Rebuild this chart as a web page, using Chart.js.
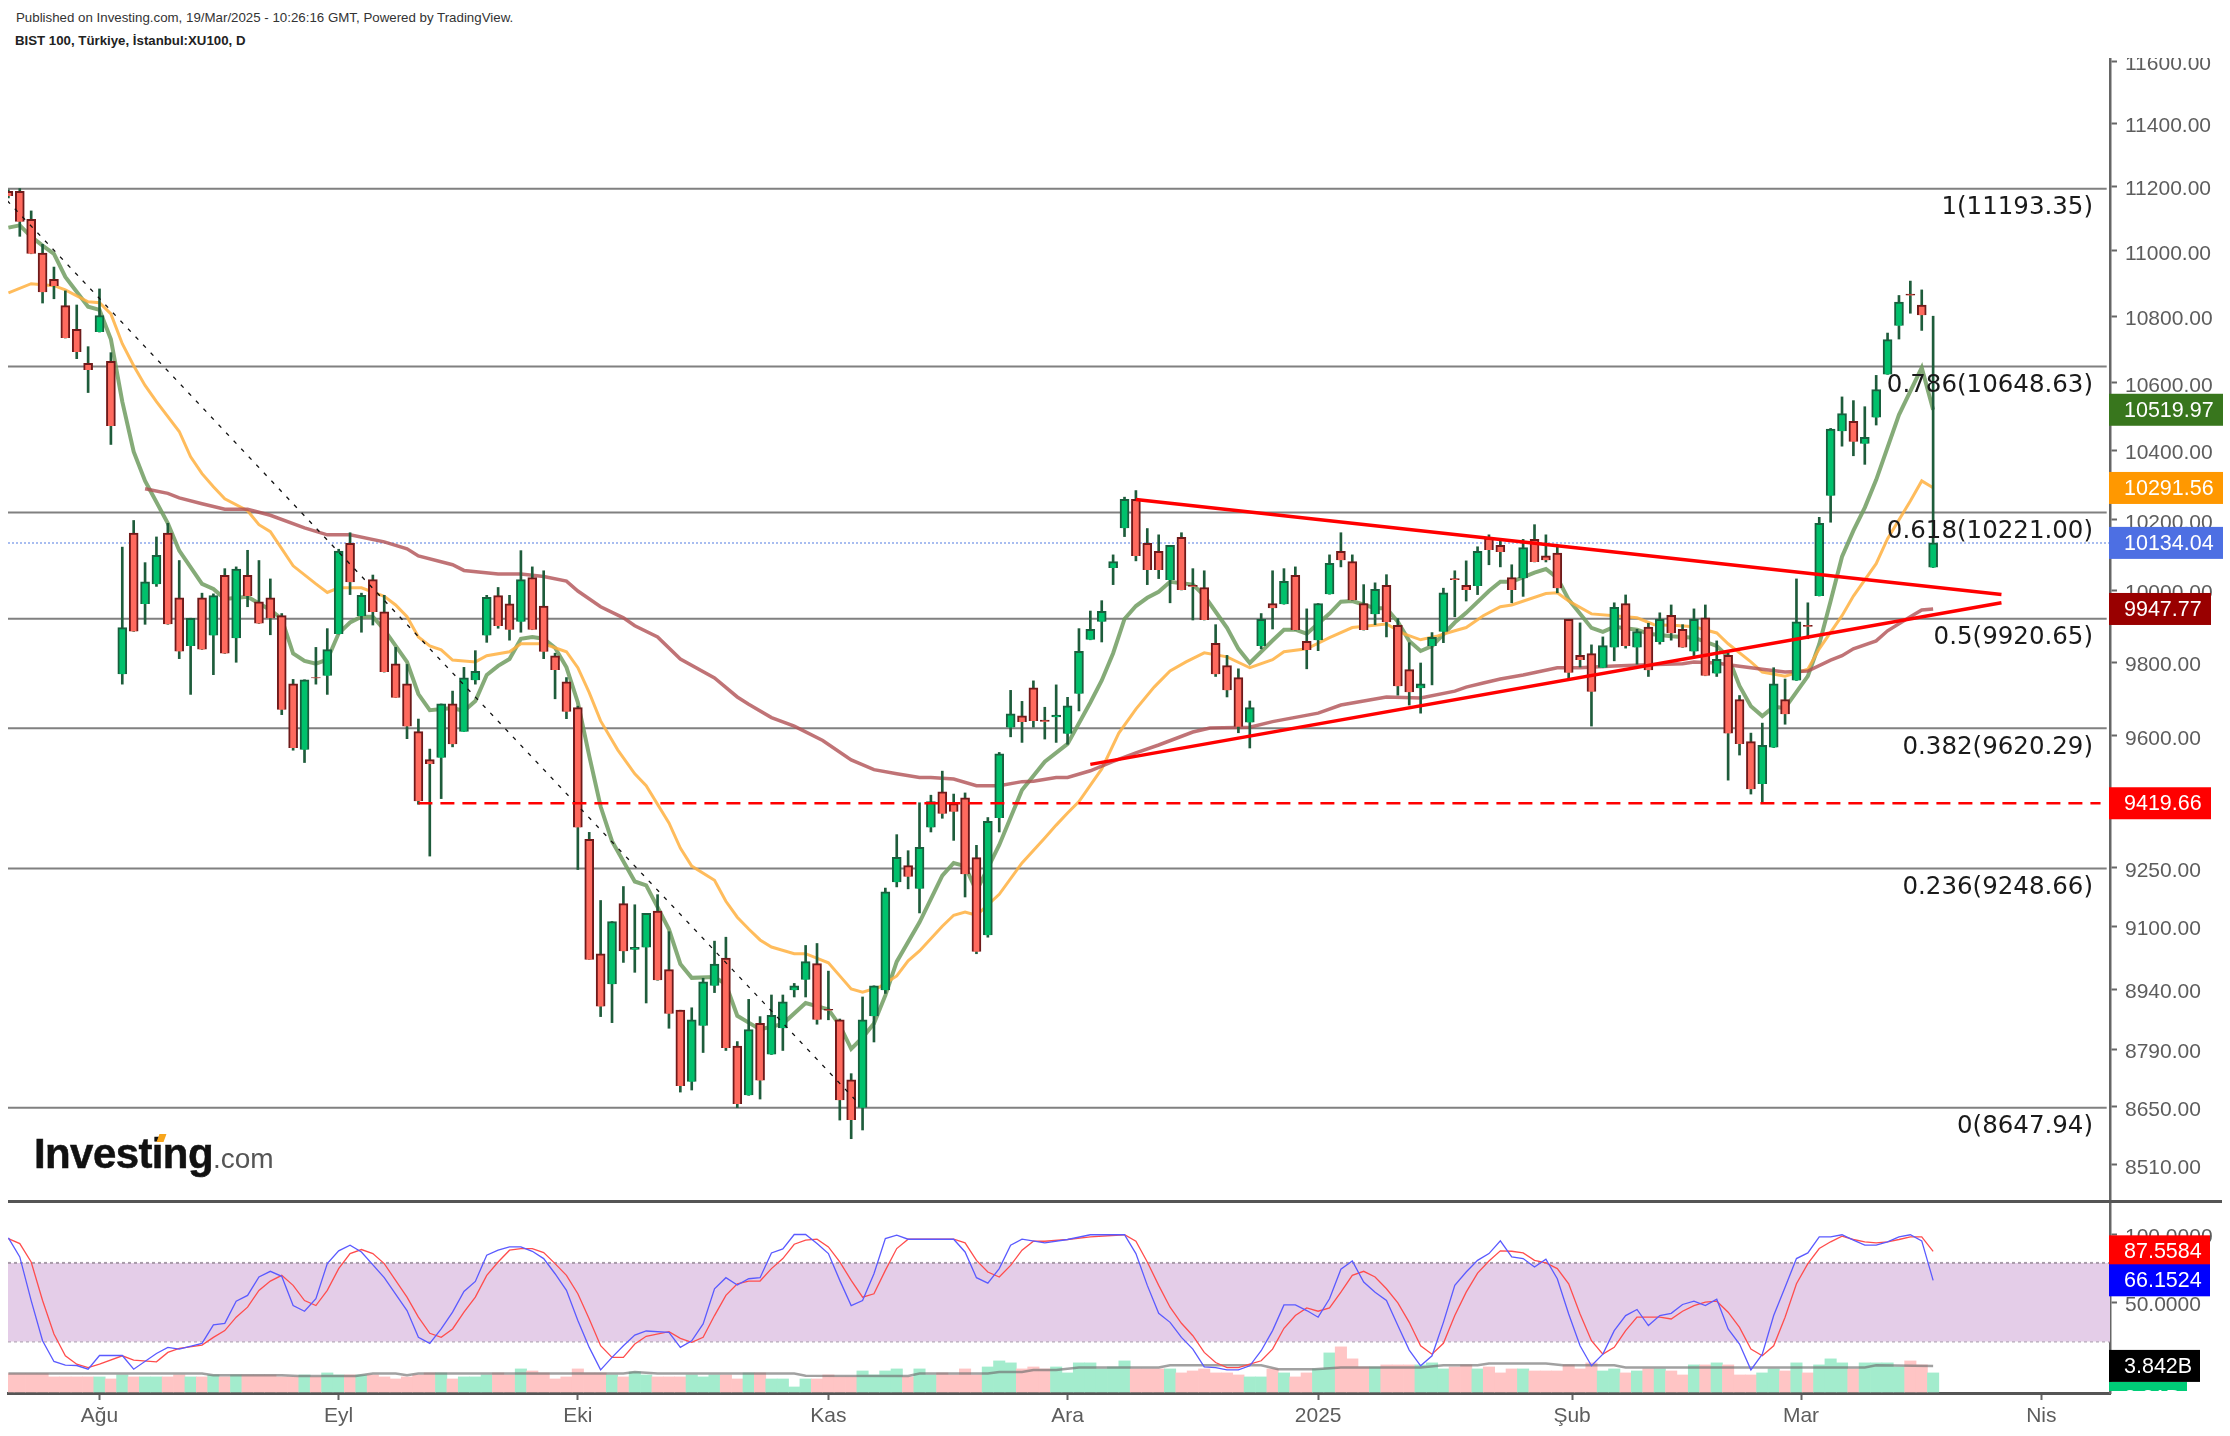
<!DOCTYPE html>
<html>
<head>
<meta charset="utf-8">
<title>BIST 100</title>
<script src="https://cdn.jsdelivr.net/npm/chart.js@4"></script>
<style>
  body { margin: 0; background: #fff; width: 2230px; height: 1436px; overflow: hidden; position: relative; font-family: "Liberation Sans", sans-serif; }
  canvas { position: absolute; left: 0; }
  .txt { position: absolute; white-space: nowrap; }
</style>
</head>
<body>
<div class="txt" style="left:16px;top:10px;font-size:13.3px;line-height:15px;color:#333">Published on Investing.com, 19/Mar/2025 - 10:26:16 GMT, Powered by TradingView.</div>
<div class="txt" style="left:15px;top:33px;font-size:13.25px;line-height:15px;font-weight:bold;color:#222">BIST 100, Türkiye, İstanbul:XU100, D</div>
<canvas id="priceChart" width="2230" height="1144" style="top:58px;width:2230px;height:1144px"></canvas>
<canvas id="lowerChart" width="2230" height="234" style="top:1202px;width:2230px;height:234px"></canvas>
<div style="position:absolute;left:8px;top:1200px;width:2214px;height:3px;background:#555"></div>
<div class="txt" style="left:34px;top:1133px;font-size:42px;line-height:42px;font-weight:bold;color:#111;letter-spacing:-0.6px;-webkit-text-stroke:0.5px #111">Investing<span style="font-size:28px;font-weight:normal;color:#555;letter-spacing:0;-webkit-text-stroke:0">.com</span></div>
<div style="position:absolute;left:158px;top:1134px;width:7px;height:8px;background:#f7a51c;transform:skewX(-20deg)"></div>
<script>
const opens = [
  11185,11185,11098,10993,10912,10832,10760,10658,10752,10664,
  9767,10162,9962,10017,10162,9979,9845,9979,9874,10042,
  9867,10042,9968,9979,9929,9741,9562,9758,9763,9878,
  10133,9928,10030,9940,9796,9741,9611,9536,9541,9686,
  9611,9751,9874,9985,9962,9912,10036,9956,9818,9746,
  9676,9325,9030,8953,9158,9041,9046,9139,8990,8888,
  8711,8849,8949,9019,8799,8678,8855,8778,8843,8938,
  8964,9005,8890,8864,8716,8648,8873,8938,9213,9256,
  9196,9356,9450,9419,9434,9277,9077,9381,9622,9654,
  9730,9642,9650,9605,9714,9862,9912,10063,10176,10259,
  10133,10110,10029,10150,10014,10008,9852,9791,9758,9636,
  9845,9963,9961,10042,9858,9861,9989,10110,10081,9963,
  9933,10014,9902,9780,9729,9845,9884,10033,10014,10012,
  10148,10127,10036,10034,10144,10097,10105,9919,9819,9824,
  9785,9841,9963,9841,9897,9856,9930,9891,9830,9923,
  9769,9819,9698,9584,9471,9568,9698,9750,9902,9984,
  10269,10457,10486,10420,10497,10625,10771,10867,10834,10064
];
const highs = [
  11190,11194,11124,11020,10950,10877,10834,10708,10883,10690,
  10122,10198,10078,10151,10190,10084,9922,9992,9990,10061,
  10066,10113,10084,10032,9935,9753,9752,9841,9893,10116,
  10163,9992,10043,9986,9841,9794,9645,9564,9686,9721,
  9786,9832,9986,10008,9986,10112,10066,10055,9825,9758,
  9680,9343,9166,9112,9202,9155,9133,9181,9086,8888,
  8894,8968,9062,9072,8810,8915,8872,8926,8926,8955,
  9051,9056,8986,8866,8731,8921,8949,9198,9337,9295,
  9421,9441,9505,9444,9447,9309,9382,9555,9723,9693,
  9749,9677,9738,9704,9893,9942,9971,10100,10265,10284,
  10175,10157,10127,10163,10061,10055,9904,9819,9782,9694,
  9935,10055,10061,10066,9948,9963,10100,10163,10100,10016,
  10021,10044,9921,9854,9798,9882,10006,10055,10083,10123,
  10157,10140,10072,10144,10186,10157,10123,9919,9909,9848,
  9870,9965,9987,9891,9908,9937,9959,9904,9948,9959,
  9859,9826,9709,9607,9634,9785,9754,10032,9965,10207,
  10465,10558,10547,10529,10622,10749,10863,10907,10880,10800
];
const lows = [
  11165,11045,10991,10840,10853,10734,10672,10571,10752,10418,
  9740,9885,9905,10011,9905,9810,9712,9835,9766,9824,
  9800,9954,9907,9876,9657,9561,9528,9740,9712,9878,
  9988,9883,9903,9773,9703,9592,9417,9281,9432,9570,
  9611,9740,9855,9894,9861,9883,9890,9810,9700,9646,
  9246,9015,8872,8857,9008,8983,8906,8963,8843,8686,
  8691,8783,8932,8788,8648,8678,8669,8778,8788,8921,
  8921,8853,8864,8618,8573,8594,8809,8930,9201,9196,
  9134,9344,9380,9322,9175,9030,9072,9344,9597,9582,
  9623,9591,9582,9577,9667,9862,9856,10016,10152,10083,
  10016,10033,9965,10001,9917,9917,9761,9705,9608,9567,
  9837,9892,9961,9889,9782,9832,9989,10066,9972,9889,
  9904,9870,9710,9683,9661,9738,9854,9926,9970,9988,
  10072,10066,9965,9983,10080,10080,9993,9754,9787,9626,
  9785,9804,9839,9795,9761,9850,9861,9841,9817,9763,
  9761,9481,9548,9444,9420,9568,9631,9750,9865,9984,
  10193,10413,10385,10360,10475,10625,10731,10809,10757,10064
];
const closes = [
  11171,11090,10991,10873,10892,10734,10692,10638,10802,10472,
  9896,9885,10024,10099,9905,9830,9922,9835,9985,9824,
  10060,9984,9907,9922,9670,9567,9752,9756,9835,10111,
  10023,9986,9939,9773,9703,9625,9425,9524,9686,9577,
  9757,9775,9980,9900,9890,10030,9890,9829,9779,9665,
  9356,9015,8897,9112,9036,9046,9133,8963,8879,8701,
  8864,8959,9004,8794,8657,8840,8714,8875,8909,8949,
  9010,8864,8887,8666,8618,8864,8949,9188,9278,9227,
  9304,9424,9392,9397,9234,9035,9372,9551,9659,9637,
  9640,9638,9656,9681,9830,9891,9941,10081,10259,10097,
  10057,10057,10127,10001,10010,9917,9767,9723,9624,9676,
  9919,9950,10025,9889,9834,9963,10076,10085,9972,9889,
  10003,9911,9734,9718,9741,9869,9993,10030,10001,10110,
  10114,10108,10001,10121,10080,10085,10006,9771,9806,9719,
  9846,9952,9845,9885,9778,9919,9880,9841,9919,9763,
  9808,9606,9578,9457,9574,9741,9658,9912,9899,10190,
  10463,10509,10426,10439,10580,10729,10843,10863,10803,10134
];
// volume in billions
const volumes = [
  2.71,2.71,2.71,2.71,2.22,2.22,2.22,2.22,2.22,1.92,
  2.51,2.22,2.22,2.22,2.22,2.51,2.22,2.22,2.51,2.22,
  2.51,2.51,2.51,2.51,2.22,2.22,2.51,2.22,2.81,2.51,
  2.51,2.51,2.51,2.22,1.92,2.22,2.51,2.81,2.81,1.92,
  2.22,2.22,2.51,2.81,2.51,3.40,3.10,2.81,1.92,2.22,
  3.40,2.81,2.81,2.51,2.22,2.96,2.51,2.22,2.22,2.22,
  2.51,2.22,2.51,2.51,1.92,2.81,2.81,1.92,1.92,0.74,
  1.92,1.92,2.51,2.22,2.22,3.10,2.51,3.10,3.40,2.22,
  3.40,2.51,2.81,2.51,3.40,2.51,3.69,4.58,4.29,3.40,
  3.69,3.40,3.69,2.81,4.29,4.29,3.40,3.69,4.58,3.40,
  3.40,3.40,3.40,2.81,3.10,3.40,2.81,2.81,2.51,2.22,
  2.22,3.40,2.81,2.22,2.81,3.40,5.76,6.65,4.88,3.69,
  3.69,3.99,3.99,3.99,3.99,4.29,3.40,3.69,3.99,3.40,
  3.69,2.81,3.40,3.40,3.10,3.10,3.10,3.99,3.40,4.29,
  3.10,3.40,2.81,3.10,3.40,3.40,3.10,2.51,3.99,3.99,
  4.29,3.99,2.51,2.51,2.81,3.40,3.10,4.29,2.81,3.99,
  4.88,4.29,3.40,4.29,4.29,4.29,3.69,4.58,3.99,2.81
];

// moving averages as [bar, value]
const fastMa = [[0,11072],[1,11079],[2,11044],[3,11016],[4,10991],[5,10920],[7,10829],[8,10819],[9,10730],[10,10544],[11,10397],[12,10312],[14,10190],[15,10112],[17,10018],[18,10004],[19,9976],[21,9982],[23,9945],[24,9920],[25,9824],[26,9804],[27,9796],[28,9807],[29,9880],[30,9910],[31,9926],[32,9926],[33,9890],[35,9801],[36,9713],[37,9669],[39,9675],[40,9667],[41,9694],[42,9765],[43,9790],[44,9809],[45,9865],[46,9870],[47,9865],[48,9840],[49,9786],[50,9690],[51,9546],[52,9411],[53,9320],[55,9215],[56,9205],[57,9149],[58,9092],[59,9004],[60,8969],[62,8971],[63,8953],[64,8874],[65,8857],[66,8840],[68,8854],[70,8906],[72,8890],[73,8850],[74,8792],[75,8820],[76,8855],[77,8925],[78,9010],[80,9110],[82,9230],[83,9263],[84,9255],[85,9190],[87,9310],[89,9455],[91,9530],[93,9578],[95,9690],[96,9750],[97,9825],[98,9920],[99,9956],[100,9979],[101,9996],[102,10024],[104,10016],[105,9985],[106,9940],[107,9895],[108,9837],[109,9798],[111,9860],[112,9890],[113,9890],[114,9879],[116,9935],[117,9968],[118,9970],[120,9950],[121,9950],[122,9912],[123,9859],[124,9831],[125,9845],[127,9910],[128,9937],[130,9998],[131,10024],[132,10024],[134,10050],[135,10060],[136,10035],[137,9974],[139,9895],[140,9884],[141,9898],[143,9890],[144,9879],[146,9872],[148,9868],[150,9845],[151,9815],[152,9735],[153,9680],[154,9653],[155,9678],[156,9675],[158,9762],[159,9850],[160,9970],[161,10095],[162,10169],[163,10235],[164,10315],[166,10505],[168,10645],[169,10520]];
const midMa = [[0,10871],[2,10899],[4,10893],[5,10880],[7,10844],[8,10841],[9,10807],[10,10717],[11,10651],[12,10592],[13,10544],[15,10456],[16,10382],[17,10333],[18,10295],[19,10260],[21,10226],[22,10186],[23,10166],[25,10069],[27,10018],[28,9994],[29,10007],[31,10007],[33,9983],[34,9959],[35,9926],[36,9870],[37,9845],[38,9834],[39,9806],[41,9801],[42,9818],[44,9829],[45,9851],[47,9851],[49,9829],[50,9785],[51,9717],[52,9640],[53.5,9562],[55,9498],[56,9466],[58,9368],[59,9302],[60,9255],[62,9218],[63,9164],[64,9123],[65,9093],[66,9065],[67,9047],[69,9030],[70,9030],[72,9007],[73,8974],[74,8941],[75,8933],[76.5,8946],[78,8974],[79,9012],[80,9037],[82,9100],[83,9128],[84,9136],[85,9128],[87,9182],[89,9263],[91,9328],[92,9362],[93,9394],[94,9424],[96,9511],[97.5,9607],[99,9672],[100.6,9732],[102,9776],[103.4,9801],[105,9826],[107,9815],[109,9785],[111,9807],[112,9829],[114,9837],[116,9868],[118,9896],[121,9906],[122.5,9879],[124,9862],[125.5,9873],[127,9887],[128,9896],[129.5,9929],[131,9954],[132,9959],[135,9991],[136,9993],[137,9970],[139,9934],[141,9929],[143,9923],[144.5,9904],[146.5,9902],[148,9898],[150,9881],[151,9851],[153,9801],[154,9773],[156,9762],[158,9781],[159,9837],[161,9929],[162,9984],[164,10075],[165,10146],[167,10254],[168,10312],[169,10292]];
const longMa = [[12,10289],[14,10276],[15,10263],[17,10246],[19,10230],[21,10230],[23,10213],[26,10177],[28,10157],[30,10157],[33,10137],[35,10117],[36,10097],[39,10072],[40,10056],[43,10046],[45,10046],[47,10039],[49,10026],[50,9998],[52,9954],[54,9923],[55,9901],[57,9870],[59,9809],[62,9757],[64,9705],[65,9685],[67,9649],[69,9626],[71.5,9587],[74,9535],[76,9509],[78,9498],[80,9488],[81,9488],[83,9484],[85,9466],[87,9466],[89,9477],[90,9478],[92,9488],[93,9488],[95,9506],[97,9531],[99,9554],[101,9575],[104,9610],[105.5,9621],[109,9623],[111,9638],[115,9661],[117,9683],[121,9705],[124,9702],[127,9721],[128,9732],[129.5,9743],[131,9754],[133,9765],[136,9785],[138,9785],[141,9790],[144,9793],[147,9796],[148,9801],[150,9798],[151,9793],[154,9781],[156,9773],[158,9776],[160,9806],[161,9818],[162,9837],[164,9859],[165,9887],[167,9926],[168,9945],[169,9948]];

// stochastic lines as [bar, value]
const stochK = [[0,97.5],[1,83.4],[2,51.2],[3,21.5],[4,6.2],[5,3.5],[6,3.2],[7,0.5],[8,10.6],[10,10.6],[11,0.5],[13,12.1],[14,16.6],[15,15.3],[17,19.6],[18,33.2],[19,34.4],[20,50.7],[21,55],[22,68.6],[23,72.8],[24,69.1],[25,47.5],[26,43.3],[27,52.5],[28,78.5],[29,87.9],[30,92.1],[31,87.1],[33,68.1],[35,43.8],[36,24],[37,19.6],[38,30.2],[39,42.6],[40,57.9],[41,65.3],[42,84.7],[43,88.4],[44,90.8],[45,90.8],[46,87.6],[47,82.2],[48,71],[49,58.7],[50,36.4],[51,16.6],[52,0],[53,9.2],[54,17.8],[55,25.7],[56,28.7],[58,27.7],[59,16.6],[60,21.5],[61,33.9],[62,59.9],[63,68.1],[64,62.6],[65,67.3],[66,68.1],[67,86.4],[68,89.4],[69,100],[70,100],[71,93.3],[72,85.9],[73,66.1],[74,47.5],[75,51.2],[76,71],[77,97],[78,99.5],[79,96.5],[83,96.5],[84,87.1],[85,68.1],[86,64.1],[87,74.8],[88,92.1],[89,96.5],[91,93.8],[93,96.3],[95,99.8],[98,99.8],[99,85.9],[100,62.4],[101,41.8],[102,35.1],[103,24],[104,15.3],[105,2.2],[106,1.7],[107,0],[108,0],[109,3],[110,14.1],[111,29],[112,48],[113,48],[114,43.8],[115,38.9],[116,52.5],[117,74.3],[118,80.4],[119,64.9],[120,57.4],[121,51.2],[122,32.7],[123,14.6],[124,3],[125,10.4],[126,35.1],[127,62.4],[128,72.3],[129,80.9],[130,85.9],[131,95.3],[132,83.4],[133,82.2],[134,76],[135,81.7],[136,67.3],[137,41.3],[138,17.8],[139,3],[140,11.6],[141,29],[142,40.1],[143,44.6],[144,32.7],[145,40.1],[146,41.8],[147,48.3],[148,50.7],[149,47.5],[150,52.2],[151,30.2],[152,19.1],[153,0],[154,11.6],[155,40.1],[156,61.1],[157,82.2],[158,86.4],[159,98.3],[160,98.3],[161,99.8],[162,95.8],[163,92.1],[164,92.1],[165,94.6],[166,98.3],[167,99.8],[168,95.3],[169,66.15]];
const stochD = [[0,97],[1,93.3],[2,79.7],[3,51.2],[4,26.5],[5,10.4],[6,4.2],[7,1.7],[8,4.2],[10,10.4],[11,7.2],[13,5.9],[14,12.9],[15,15.8],[17,18.3],[18,24],[19,29],[20,38.9],[21,46.3],[22,58.7],[23,65.6],[24,69.8],[25,62.4],[26,51.2],[27,47.5],[28,58.7],[29,74.8],[30,85.9],[31,88.9],[32,85.9],[33,78.5],[35,53.7],[36,38.9],[37,27],[38,24],[39,30.2],[40,42.6],[41,53.7],[42,69.8],[43,79.7],[44,88.4],[45,89.6],[46,89.6],[47,86.6],[48,78.5],[49,69.8],[50,56.2],[51,37.6],[52,17.8],[53,9.2],[54,9.2],[55,19.1],[56,24.8],[58,28.2],[59,23.3],[60,20.3],[61,24],[62,40.1],[63,55],[64,63.6],[65,65.6],[66,65.6],[67,74.8],[68,82.2],[69,92.8],[70,95.8],[71,96.5],[72,90.8],[73,79.7],[74,66.1],[75,53.7],[76,56.2],[77,73.5],[78,89.6],[79,96.5],[83,96.5],[84,93.8],[85,80.9],[86,72.3],[87,68.6],[88,77.2],[89,88.4],[90,95],[91,95],[93,96.3],[95,98.3],[98,99.8],[99,95],[100,79.7],[101,62.4],[102,46.3],[103,34.4],[104,25.2],[105,12.9],[106,5.4],[107,1.7],[108,1.7],[109,4.2],[110,6.7],[111,15.3],[112,30.7],[113,40.1],[114,45.8],[115,43.3],[116,45.8],[117,57.4],[118,69.8],[119,72.8],[120,68.6],[121,59.9],[122,49.5],[123,35.1],[124,17.8],[125,11.6],[126,19.6],[127,40.1],[128,57.4],[129,71.5],[130,80.4],[131,87.9],[132,87.6],[133,86.4],[134,80.9],[135,79],[136,74.8],[137,63.6],[138,41.3],[139,21.5],[140,11.6],[141,16.6],[142,29],[143,38.9],[144,38.9],[145,38.9],[146,37.6],[147,43.3],[148,47.5],[149,50],[150,50.7],[151,42.6],[152,31.4],[153,15.3],[154,10.4],[155,17.8],[156,38.9],[157,63.6],[158,78.5],[159,89.6],[160,94.6],[161,98.8],[162,96.3],[163,94.6],[164,93.8],[165,94.6],[166,96.3],[167,98.3],[168,98.3],[169,87.56]];
const volumeMa = [[0,2.71],[17,2.71],[18,2.46],[24,2.46],[25.5,2.36],[30.5,2.36],[32,2.71],[34,2.71],[35,2.46],[36,2.71],[54,2.71],[55,2.96],[57,2.71],[69,2.71],[70,2.41],[79,2.36],[80,2.71],[86,2.71],[87,2.96],[89,2.96],[90,3.25],[92,3.25],[94,3.6],[101,3.6],[102,3.94],[110,3.94],[111.5,3.35],[114.7,3.35],[117,3.6],[124,3.6],[126,3.94],[129,3.94],[130,4.19],[135,4.19],[136.5,3.94],[141,3.94],[142,3.6],[163,3.6],[164,3.94],[169,3.84]];

const fibRatios = ['1', '0.786', '0.618', '0.5', '0.382', '0.236', '0'];
const fibValues = [11193.35, 10648.63, 10221.00, 9920.65, 9620.29, 9248.66, 8647.94];
const supportLevel = 9419.66;
const lastPrice = 10134.04;
const upperTrend = [[99, 10258], [175, 9988]];
const lowerTrend = [[95, 9523], [175, 9965]];
const fibDiagonal = [[-0.1, 11156], [74.6, 8660]];

const priceTicks = [11600, 11400, 11200, 11000, 10800, 10600, 10400, 10200, 10000, 9800, 9600, 9250, 9100, 8940, 8790, 8650, 8510];
const stochTicks = [50, 100];
const monthTicks = [8, 29, 50, 72, 93, 115, 137.3, 157.4, 178.5];
const monthLabels = ['Ağu', 'Eyl', 'Eki', 'Kas', 'Ara', '2025', 'Şub', 'Mar', 'Nis'];
const stochBand = [79, 21];

const priceTags = [10519.97, 10291.56, 10134.04, 9947.77, 9419.66];
const priceTagColors = ['#38761d', '#ff9800', '#4d6fe3', '#990000', '#ff0000'];
const stochTags = [87.5584, 66.1524];
const stochTagColors = ['#ff0000', '#0000ff'];

const xMin = -0.035, xMax = 184.53;
const fibEnd = 184.24, supportEnd = 183.7;
const axisFont = { family: '"Liberation Sans"', size: 21 };

const toPoints = pairs => pairs.map(p => ({ x: p[0], y: p[1] }));
const hLine = (value, from, to) => [{ x: from, y: value }, { x: to, y: value }];
const isUp = i => closes[i] >= opens[i];

function lineSet(data, color, width, order, extra) {
  return Object.assign({
    type: 'line', data: data, borderColor: color, borderWidth: width,
    pointRadius: 0, fill: false, tension: 0, order: order
  }, extra || {});
}

function drawTag(ctx, y, text, color, right) {
  ctx.fillStyle = color;
  ctx.fillRect(2109, y - 16, right - 2109, 32);
  ctx.fillStyle = '#fff';
  ctx.font = '21.5px "Liberation Sans"';
  ctx.textAlign = 'left';
  ctx.textBaseline = 'middle';
  ctx.fillText(text, 2124, y + 1);
}

const priceLabels = {
  id: 'priceLabels',
  afterDatasetsDraw(chart) {
    const { ctx, scales } = chart;
    ctx.save();
    ctx.fillStyle = '#1a1a1a';
    ctx.font = '24.5px "DejaVu Sans"';
    ctx.textAlign = 'right';
    ctx.textBaseline = 'middle';
    fibValues.forEach((v, i) => {
      const text = fibRatios[i] + '(' + v.toFixed(2) + ')';
      ctx.fillText(text, 2093, scales.y.getPixelForValue(v) + 19);
    });
    ctx.restore();
  },
  afterDraw(chart) {
    const { ctx, scales } = chart;
    ctx.save();
    priceTags.forEach((v, i) => {
      const right = v >= 10000 ? 2223 : 2211;
      drawTag(ctx, scales.y.getPixelForValue(v), v.toFixed(2), priceTagColors[i], right);
    });
    ctx.restore();
  }
};

const lowerLabels = {
  id: 'lowerLabels',
  afterDraw(chart) {
    const { ctx, scales, chartArea } = chart;
    ctx.save();
    stochTags.forEach((v, i) => {
      drawTag(ctx, scales.stoch.getPixelForValue(v), v.toFixed(4), stochTagColors[i], 2210);
    });
    const maY = scales.vol.getPixelForValue(3.842);
    // volume tag sits under the MA tag and is cut off by the axis
    ctx.save();
    ctx.beginPath();
    ctx.rect(0, 0, 2230, chartArea.bottom - 2);
    ctx.clip();
    drawTag(ctx, maY + 32, (volumes[volumes.length - 1]).toFixed(2) + 'B', '#00cc77', 2187);
    ctx.restore();
    drawTag(ctx, maY, '3.842B', '#000', 2200);
    ctx.restore();
  }
};

const xAxisBase = { type: 'linear', min: xMin, max: xMax, offset: false };

const rightFit = scale => {
  scale.width = 120;
  scale.paddingTop = 0;
  scale.paddingBottom = 0;
};

new Chart(document.getElementById('priceChart'), {
  type: 'bar',
  data: {
    datasets: [
      ...fibValues.map(v => lineSet(hLine(v, xMin, fibEnd), '#808080', 2, 10)),
      lineSet(hLine(lastPrice, xMin, xMax), '#a8bdf0', 2, 9, { borderDash: [2, 2] }),
      lineSet(toPoints(longMa), 'rgba(176,80,84,0.8)', 3.5, 8),
      lineSet(toPoints(midMa), 'rgba(255,176,64,0.85)', 3, 8),
      lineSet(toPoints(fastMa), 'rgba(112,156,96,0.85)', 4, 8),
      {
        data: opens.map((o, i) => ({ x: i, y: [lows[i], highs[i]] })),
        backgroundColor: '#1e5c3b', borderWidth: 0, barThickness: 2, grouped: false, order: 7
      },
      {
        data: opens.map((o, i) => ({ x: i, y: [o, closes[i]] })),
        backgroundColor: opens.map((o, i) => isUp(i) ? '#00c16c' : '#ff6a5e'),
        borderColor: opens.map((o, i) => isUp(i) ? '#17603e' : '#6f1a1a'),
        borderWidth: 2, barThickness: 9, grouped: false, order: 6
      },
      lineSet(toPoints(fibDiagonal), '#111', 1.3, 3, { borderDash: [4, 7] }),
      lineSet(hLine(supportLevel, 36, supportEnd), '#ff0000', 2.5, 2, { borderDash: [14, 8] }),
      lineSet(toPoints(upperTrend), '#ff0000', 3.5, 2),
      lineSet(toPoints(lowerTrend), '#ff0000', 3.5, 2)
    ]
  },
  options: {
    responsive: false,
    animation: false,
    events: [],
    layout: { padding: { left: 8, top: 0, right: 0, bottom: 0 } },
    plugins: { legend: { display: false }, tooltip: { enabled: false } },
    scales: {
      x: Object.assign({ display: false, grid: { display: false } }, xAxisBase),
      y: {
        type: 'logarithmic',
        position: 'right',
        min: 8422,
        max: 11612,
        afterBuildTicks: scale => { scale.ticks = priceTicks.map(v => ({ value: v })); },
        afterFit: rightFit,
        grid: { drawOnChartArea: false, drawTicks: true, tickLength: 7, tickColor: '#666', tickWidth: 2 },
        border: { display: true, color: '#666', width: 2.5 },
        ticks: { autoSkip: false, padding: 8, labelOffset: 3, color: '#5d5d5d', font: axisFont, callback: v => v.toFixed(2) }
      }
    }
  },
  plugins: [priceLabels]
});

new Chart(document.getElementById('lowerChart'), {
  type: 'bar',
  data: {
    datasets: [
      lineSet(hLine(stochBand[0], xMin, xMax), '#a79aa8', 2, 10, {
        yAxisID: 'stoch', borderDash: [3, 3], backgroundColor: '#e4cde8', fill: '+1'
      }),
      lineSet(hLine(stochBand[1], xMin, xMax), '#a79aa8', 2, 10, { yAxisID: 'stoch', borderDash: [3, 3] }),
      {
        data: volumes.map((v, i) => ({ x: i, y: v })),
        yAxisID: 'vol',
        backgroundColor: volumes.map((v, i) => isUp(i) ? '#a3eccd' : '#ffc5c5'),
        borderWidth: 0, barThickness: 11.4, grouped: false, order: 8
      },
      lineSet(toPoints(volumeMa), 'rgba(110,110,110,0.65)', 2.5, 7, { yAxisID: 'vol' }),
      lineSet(toPoints(stochD), '#ff4d4d', 1.3, 5, { yAxisID: 'stoch' }),
      lineSet(toPoints(stochK), '#5a5aff', 1.3, 4, { yAxisID: 'stoch' })
    ]
  },
  options: {
    responsive: false,
    animation: false,
    events: [],
    layout: { padding: { left: 8, top: 0, right: 0, bottom: 0 } },
    plugins: { legend: { display: false }, tooltip: { enabled: false } },
    scales: {
      x: Object.assign({
        position: 'bottom',
        afterBuildTicks: scale => { scale.ticks = monthTicks.map(v => ({ value: v })); },
        afterFit: scale => { scale.height = 43; scale.paddingLeft = 0; scale.paddingRight = 0; },
        grid: { drawOnChartArea: false, drawTicks: true, tickLength: 7, tickColor: '#666', tickWidth: 2, offset: false },
        border: { display: true, color: '#555', width: 3 },
        ticks: { autoSkip: false, maxRotation: 0, padding: 4, color: '#5d5d5d', font: axisFont, callback: (v, i) => monthLabels[i] }
      }, xAxisBase),
      stoch: {
        position: 'right',
        min: -17.1,
        max: 124,
        afterBuildTicks: scale => { scale.ticks = stochTicks.map(v => ({ value: v })); },
        afterFit: rightFit,
        grid: { drawOnChartArea: false, drawTicks: true, tickLength: 7, tickColor: '#666', tickWidth: 2 },
        border: { display: true, color: '#666', width: 2.5 },
        ticks: { autoSkip: false, padding: 8, labelOffset: 3, color: '#5d5d5d', font: axisFont, callback: v => v.toFixed(4) }
      },
      vol: { display: false, min: -0.15, max: 28 }
    }
  },
  plugins: [lowerLabels]
});
</script>
</body>
</html>
